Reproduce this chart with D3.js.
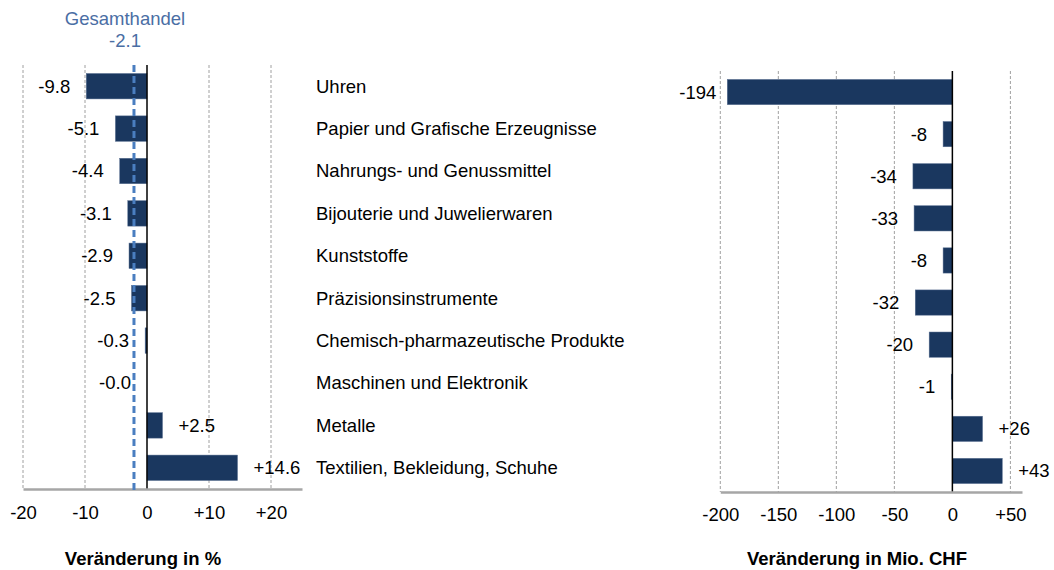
<!DOCTYPE html>
<html>
<head>
<meta charset="utf-8">
<script src="https://cdn.jsdelivr.net/npm/d3@7"></script>
<style>
	body { margin: 0; background: #fff; }
	text { font-family: "Liberation Sans", Arial, sans-serif; }
</style>
</head>
<body>
<svg id="chart"></svg>
<script>
var categories = ["Uhren", "Papier und Grafische Erzeugnisse", "Nahrungs- und Genussmittel",
	"Bijouterie und Juwelierwaren", "Kunststoffe", "Präzisionsinstrumente",
	"Chemisch-pharmazeutische Produkte", "Maschinen und Elektronik", "Metalle",
	"Textilien, Bekleidung, Schuhe"];
var pctValues = [-9.8, -5.1, -4.4, -3.1, -2.9, -2.5, -0.3, -0.0, 2.5, 14.6];
var pctLabels = ["-9.8", "-5.1", "-4.4", "-3.1", "-2.9", "-2.5", "-0.3", "-0.0", "+2.5", "+14.6"];
var chfValues = [-194, -8, -34, -33, -8, -32, -20, -1, 26, 43];
var chfLabels = ["-194", "-8", "-34", "-33", "-8", "-32", "-20", "-1", "+26", "+43"];
var pctTicks = [-20, -10, 0, 10, 20];
var chfTicks = [-200, -150, -100, -50, 0, 50];
var totalPct = -2.1;

var width = 1054;
var height = 570;
var barColor = "#1a375f";
var fontSize = "18.5px";

var svg = d3.select("#chart")
	.attr("width", width)
	.attr("height", height);

function fmt(v) {
	return v > 0 ? "+" + v : String(v);
}

function isNeg(d) {
	return d < 0 || Object.is(d, -0);
}

function drawPanel(opts) {
	var x = d3.scaleLinear().domain(opts.domain).range(opts.xRange);
	var y = d3.scaleBand().domain(categories).range(opts.yRange)
		.paddingInner(0.4).paddingOuter(0.2);
	var g = svg.append("g");

	// dashed grid
	g.selectAll("line.grid")
		.data(opts.ticks.filter(function(t) { return t !== 0; }))
		.enter()
		.append("line")
		.attr("x1", function(d) { return x(d); })
		.attr("x2", function(d) { return x(d); })
		.attr("y1", opts.yRange[0])
		.attr("y2", opts.yRange[1])
		.attr("stroke", "#a0a0a0")
		.attr("stroke-width", 1)
		.attr("stroke-dasharray", "3,2");

	// bars
	g.selectAll("rect")
		.data(opts.values)
		.enter()
		.append("rect")
		.attr("x", function(d) { return x(Math.min(0, d)); })
		.attr("y", function(d, i) { return y(categories[i]); })
		.attr("width", function(d) { return Math.abs(x(d) - x(0)); })
		.attr("height", y.bandwidth())
		.attr("fill", barColor)
		.attr("stroke", "#5a7092")
		.attr("stroke-width", 0.5);

	// zero line
	g.append("line")
		.attr("x1", x(0)).attr("x2", x(0))
		.attr("y1", opts.yRange[0]).attr("y2", opts.yRange[1])
		.attr("stroke", "#000")
		.attr("stroke-width", 1.5);

	// bottom axis
	var axis = d3.axisBottom(x)
		.tickValues(opts.ticks)
		.tickFormat(fmt)
		.tickSize(0)
		.tickPadding(opts.tickPad);
	var ax = g.append("g")
		.attr("transform", "translate(0," + opts.yRange[1] + ")")
		.call(axis);
	ax.select(".domain").attr("stroke", "#a6a6a6").attr("stroke-width", 2.5);
	ax.selectAll(".tick text")
		.style("font-size", fontSize)
		.attr("fill", "#000")
		.attr("font-family", "Liberation Sans, Arial, sans-serif");

	// value labels
	g.selectAll("text.val")
		.data(opts.values)
		.enter()
		.append("text")
		.attr("class", "val")
		.attr("x", function(d, i) { return isNeg(d) ? x(Math.min(0, d)) - opts.gaps[i] : x(d) + 16; })
		.attr("y", function(d, i) { return y(categories[i]) + y.bandwidth() / 2; })
		.attr("dy", "0.35em")
		.attr("text-anchor", function(d) { return isNeg(d) ? "end" : "start"; })
		.style("font-size", fontSize)
		.text(function(d, i) { return opts.labels[i]; });

	// axis title
	g.append("text")
		.attr("x", opts.titleX)
		.attr("y", 565)
		.attr("text-anchor", "middle")
		.style("font-size", fontSize)
		.style("font-weight", "bold")
		.text(opts.title);

	return { x: x, y: y };
}

var left = drawPanel({
	domain: [-20, 25], xRange: [23, 302], yRange: [65, 489],
	ticks: pctTicks, values: pctValues, labels: pctLabels, tickPad: 17,
	gaps: [16, 16, 16, 16, 16, 16, 16, 16, 16, 16], titleX: 143, title: "Veränderung in %"
});

var right = drawPanel({
	domain: [-200, 60], xRange: [720.3, 1022], yRange: [71, 492],
	ticks: chfTicks, values: chfValues, labels: chfLabels, tickPad: 16,
	gaps: [11, 16, 16, 16, 16, 16, 16, 16, 16, 16], titleX: 857, title: "Veränderung in Mio. CHF"
});

// category labels
svg.selectAll("text.cat")
	.data(categories)
	.enter()
	.append("text")
	.attr("class", "cat")
	.attr("x", 316)
	.attr("y", function(d) { return left.y(d) + left.y.bandwidth() / 2; })
	.attr("dy", "0.35em")
	.style("font-size", fontSize)
	.text(function(d) { return d; });

// Gesamthandel reference line
svg.append("line")
	.attr("x1", left.x(totalPct)).attr("x2", left.x(totalPct))
	.attr("y1", 65).attr("y2", 492)
	.attr("stroke", "#4a7ec0")
	.attr("stroke-width", 3)
	.attr("stroke-dasharray", "7,4");

svg.append("text")
	.attr("x", 125).attr("y", 25)
	.attr("text-anchor", "middle")
	.attr("fill", "#4a6ea4")
	.style("font-size", fontSize)
	.text("Gesamthandel");

svg.append("text")
	.attr("x", 125).attr("y", 47)
	.attr("text-anchor", "middle")
	.attr("fill", "#4a6ea4")
	.style("font-size", fontSize)
	.text(String(totalPct));
</script>
</body>
</html>
